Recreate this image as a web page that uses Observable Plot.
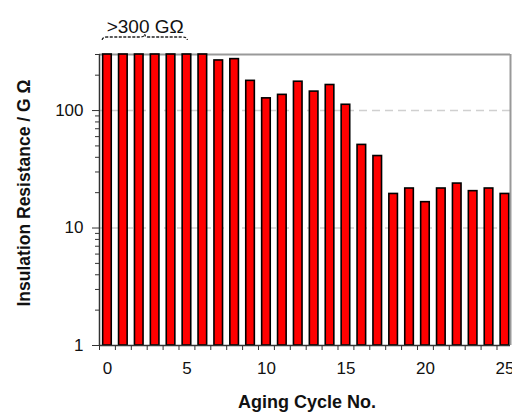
<!DOCTYPE html>
<html>
<head>
<meta charset="utf-8">
<script src="https://cdn.jsdelivr.net/npm/d3@7"></script>
<script src="https://cdn.jsdelivr.net/npm/@observablehq/plot@0.6"></script>
<style>
  html, body { margin: 0; padding: 0; background: #fff; }
  #chart svg { display: block; }
</style>
</head>
<body>
<div id="chart"></div>
<script>
// Insulation resistance (GΩ) measured after each aging cycle; cycles 0–6 exceed the 300 GΩ meter limit.
const cycles = [0, 1, 2, 3, 4, 5, 6, 7, 8, 9, 10, 11, 12, 13, 14, 15, 16, 17, 18, 19, 20, 21, 22, 23, 24, 25];
const resistance = [300, 300, 300, 300, 300, 300, 300, 267, 274, 179, 127, 136, 176, 145, 165, 112, 51, 41, 19.5, 21.7, 16.6, 21.7, 23.9, 20.6, 21.7, 19.5];

const yTickValues = [1, 10, 100];
const xTickValues = [0, 5, 10, 15, 20, 25];
const yGridValues = [10, 100];
const overLimitLabel = ">300 GΩ";
const overLimitSpan = [-0.3, 5.05];

const data = cycles.map((c, i) => ({cycle: c, value: resistance[i]}));

const xDomain = [-0.5, 25.35];
const yDomain = [1, 300];
const halfWidth = 0.27;

// minor log ticks between decades
const yMinor = [];
for (let d = 1; d <= 100; d *= 10) for (let k = 2; k <= 9; k++) if (d * k <= yDomain[1]) yMinor.push(d * k);
// category boundary ticks on the x axis
const xBoundaries = d3.range(xDomain[0], xDomain[1], 1);

const font = "Liberation Sans, Arial, Helvetica, sans-serif";

const plot = Plot.plot({
  width: 512,
  height: 418,
  marginLeft: 99,
  marginRight: 2,
  marginTop: 54,
  marginBottom: 73,
  style: {fontFamily: font, fontSize: "17px", color: "#111", background: "#fff"},
  x: {type: "linear", domain: xDomain},
  y: {type: "log", domain: yDomain},
  marks: [
    Plot.ruleY(yGridValues, {stroke: "#d0d0d0", strokeWidth: 1.5, strokeDasharray: "8,5"}),
    Plot.ruleY([yDomain[1]], {stroke: "#999", strokeWidth: 2}),
    Plot.ruleX([xDomain[1]], {stroke: "#999", strokeWidth: 2}),
    Plot.rectY(data, {
      x1: d => d.cycle - halfWidth,
      x2: d => d.cycle + halfWidth,
      y1: yDomain[0],
      y2: "value",
      fill: "#ff0000",
      stroke: "#000",
      strokeWidth: 1.6
    }),
    Plot.axisY({ticks: yMinor, tickSize: 4, text: null, stroke: "#333", label: null}),
    Plot.axisY({ticks: yTickValues, tickSize: 7, tickPadding: 9, tickFormat: d3.format("d"), stroke: "#333", fontSize: 17, label: null}),
    Plot.axisX({ticks: xBoundaries, tickSize: 5, text: null, stroke: "#333", label: null}),
    Plot.axisX({ticks: xTickValues, tickSize: 0, tickPadding: 16, tickFormat: d3.format("d"), fontSize: 17, label: null}),
    Plot.ruleX([xDomain[0]], {stroke: "#333", strokeWidth: 1.5}),
    Plot.ruleY([yDomain[0]], {stroke: "#333", strokeWidth: 1.5}),
    Plot.text(["Insulation Resistance / G Ω"], {frameAnchor: "left", textAnchor: "middle", dx: -75, dy: -7, rotate: -90, fontWeight: "bold", fontSize: 17.5}),
    Plot.text(["Aging Cycle No."], {frameAnchor: "bottom", dx: 2, dy: 62, fontWeight: "bold", fontSize: 18}),
    Plot.text([overLimitLabel], {x: (overLimitSpan[0] + overLimitSpan[1]) / 2, frameAnchor: "top", dy: -35, fontSize: 19})
  ]
});

// curly brace under the ">300 GΩ" note, spanning the saturated cycles
const xs = plot.scale("x");
const x0 = xs.apply(overLimitSpan[0]);
const x1 = xs.apply(overLimitSpan[1]);
const xm = (x0 + x1) / 2;
const yb = 37;
const h = 3;
const bracePath = `M${x0},${yb + h} Q${x0},${yb} ${x0 + 5},${yb} L${xm - 4},${yb} Q${xm},${yb} ${xm},${yb - h} Q${xm},${yb} ${xm + 4},${yb} L${x1 - 5},${yb} Q${x1},${yb} ${x1},${yb + h}`;
d3.select(plot).append("path")
  .attr("d", bracePath)
  .attr("fill", "none")
  .attr("stroke", "#222")
  .attr("stroke-width", 1.3)
  .attr("stroke-dasharray", "3,1.5");

document.getElementById("chart").appendChild(plot);
</script>
</body>
</html>
